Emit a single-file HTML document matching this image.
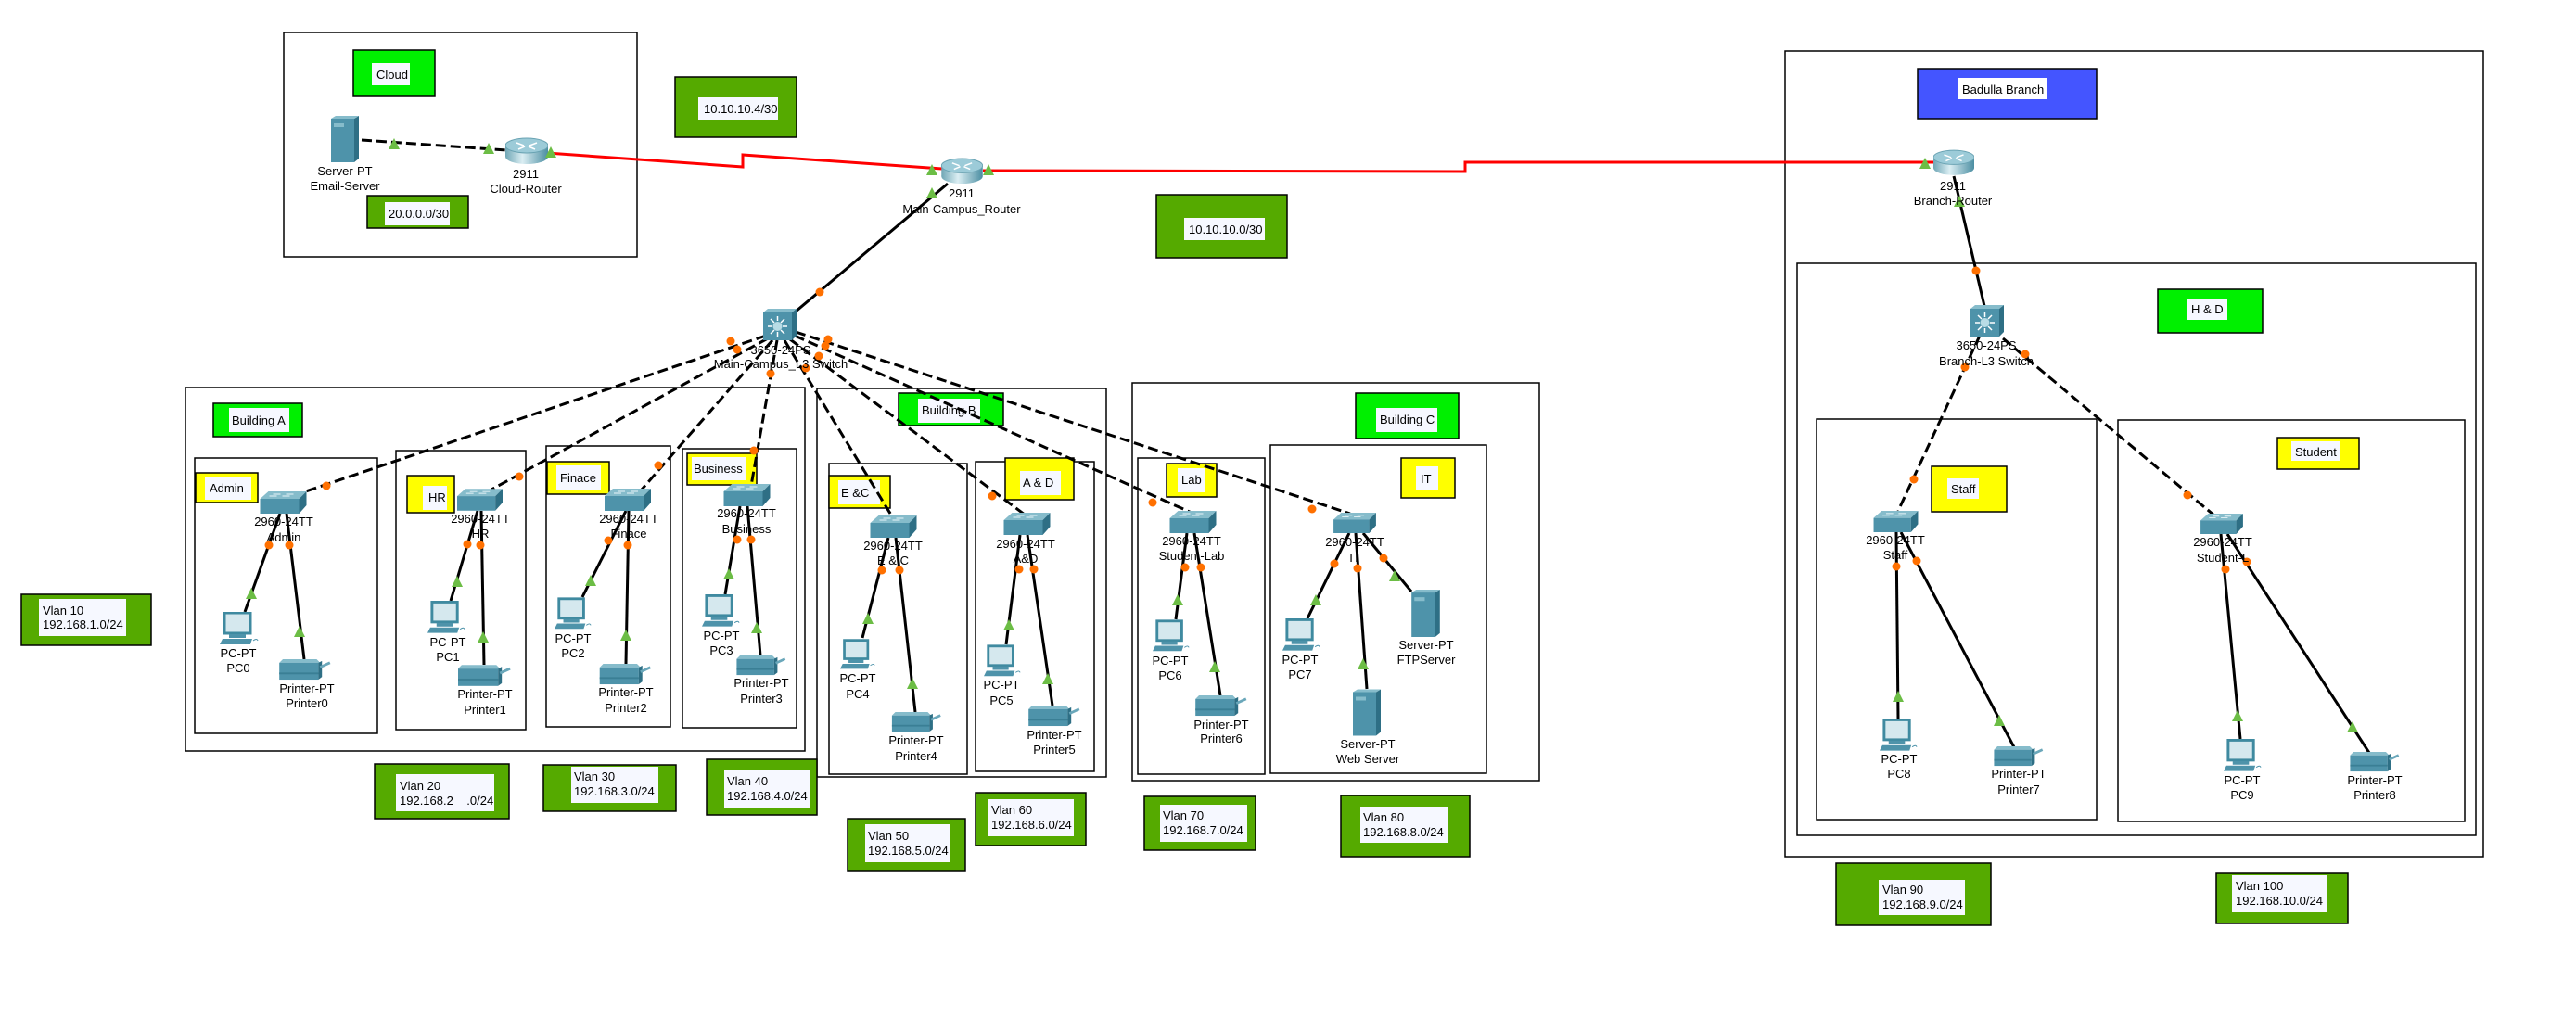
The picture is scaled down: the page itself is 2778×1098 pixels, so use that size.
<!DOCTYPE html>
<html><head><meta charset="utf-8">
<style>
html,body{margin:0;padding:0;background:#fff;}
svg{display:block;}
text{font-family:"Liberation Sans",Arial,sans-serif;font-size:13px;fill:#000;}
.c{text-anchor:middle;}
.box{fill:none;stroke:#000;stroke-width:1.5;}
.sol{stroke:#000;stroke-width:3;fill:none;}
.dsh{stroke:#000;stroke-width:3;fill:none;stroke-dasharray:11 5;}
.red{stroke:#f00;stroke-width:3;fill:none;}
.od{fill:#ff7000;}
.gt{fill:#6cbd45;}
.g{fill:#00f000;stroke:#000;stroke-width:1.5;}
.y{fill:#ffff00;stroke:#000;stroke-width:1.5;}
.dg{fill:#55aa00;stroke:#000;stroke-width:1.5;}
.w{fill:#f6f8ff;}
</style></head>
<body>
<svg width="2778" height="1098" viewBox="0 0 2778 1098" xmlns="http://www.w3.org/2000/svg">
<defs>
<symbol id="sw" viewBox="0 0 50 24" width="50" height="24">
<polygon points="9,0 50,0 42,8 0,8" fill="#86bccb"/>
<rect x="0" y="8" width="42" height="16" fill="#4e93aa"/>
<polygon points="42,8 50,0 50,15 42,24" fill="#2e6f85"/>
<path d="M14,3 h8 M28,3 h8 M10,5 h8 M24,5 h8" stroke="#e8f4f8" stroke-width="1"/>
</symbol>
<symbol id="pc" viewBox="0 0 42 36" width="42" height="36">
<rect x="5" y="1" width="28" height="22" fill="#d5e8ee" stroke="#3f8aa0" stroke-width="3"/>
<rect x="10" y="24" width="18" height="4" fill="#4e93aa"/>
<polygon points="3,29 35,29 33,35 0,35" fill="#4e93aa"/>
<path d="M36,31 q4,-3 5,0" stroke="#4e93aa" fill="none"/>
</symbol>
<symbol id="pr" viewBox="0 0 58 24" width="58" height="24">
<polygon points="4,0 42,0 46,4 0,4" fill="#86bccb"/>
<rect x="0" y="4" width="44" height="19" fill="#4e93aa"/>
<rect x="0" y="15" width="44" height="2" fill="#3a7f95"/>
<polygon points="44,4 48,2 48,20 44,23" fill="#2e6f85"/>
<path d="M46,9 L57,4" stroke="#6aa7ba" stroke-width="3"/>
</symbol>
<symbol id="srv" viewBox="0 0 30 50" width="30" height="50">
<rect x="0" y="3" width="25" height="47" fill="#4e93aa"/>
<polygon points="25,3 30,0 30,46 25,50" fill="#2e6f85"/>
<polygon points="0,3 5,0 30,0 25,3" fill="#86bccb"/>
<rect x="3" y="8" width="11" height="4" fill="#86bccb"/>
</symbol>
<symbol id="rt" viewBox="0 0 46 30" width="46" height="30">
<defs><linearGradient id="rg" x1="0" x2="1"><stop offset="0" stop-color="#6fa6b5"/><stop offset="0.4" stop-color="#dbeef3"/><stop offset="1" stop-color="#4b8ea2"/></linearGradient></defs>
<rect x="0" y="9" width="46" height="12" fill="url(#rg)"/>
<ellipse cx="23" cy="21" rx="23" ry="8" fill="url(#rg)"/>
<ellipse cx="23" cy="9" rx="23" ry="8" fill="#9ccbd8" stroke="#6aa3b3"/>
<path d="M12,6 l8,3 M34,6 l-8,3 M14,13 l7,-3 M32,13 l-7,-3" stroke="#fff" stroke-width="1.5"/>
</symbol>
<symbol id="l3" viewBox="0 0 36 34" width="36" height="34">
<rect x="0" y="4" width="31" height="30" fill="#4e93aa"/>
<polygon points="0,4 5,0 36,0 31,4" fill="#86bccb"/>
<polygon points="31,4 36,0 36,29 31,34" fill="#2e6f85"/>
<circle cx="15.5" cy="19" r="5" fill="#b8dce6"/>
<path d="M15.5,8 v5 M15.5,25 v5 M5,19 h5 M21,19 h5 M8,11 l4,4 M23,11 l-4,4 M8,27 l4,-4 M23,27 l-4,-4" stroke="#fff" stroke-width="1.5"/>
</symbol>
<symbol id="tri" viewBox="0 0 12 12" width="12" height="12"><polygon points="6,0 12,12 0,12" fill="#6cbd45"/></symbol>
</defs>

<!-- ===== Containers ===== -->
<rect class="box" x="306" y="35" width="381" height="242"/>
<rect class="box" x="200" y="418" width="668" height="392"/>
<rect class="box" x="210" y="494" width="197" height="297"/>
<rect class="box" x="427" y="486" width="140" height="301"/>
<rect class="box" x="589" y="481" width="134" height="303"/>
<rect class="box" x="736" y="484" width="123" height="301"/>
<rect class="box" x="881" y="419" width="312" height="419"/>
<rect class="box" x="894" y="500" width="149" height="335"/>
<rect class="box" x="1052" y="498" width="128" height="334"/>
<rect class="box" x="1221" y="413" width="439" height="429"/>
<rect class="box" x="1227" y="494" width="137" height="341"/>
<rect class="box" x="1370" y="480" width="233" height="354"/>
<rect class="box" x="1925" y="55" width="753" height="869"/>
<rect class="box" x="1938" y="284" width="732" height="617"/>
<rect class="box" x="1959" y="452" width="302" height="432"/>
<rect class="box" x="2284" y="453" width="374" height="433"/>

<!-- ===== Labels (colored) ===== -->
<rect class="g" x="381" y="54" width="88" height="50"/><rect class="w" x="401" y="68" width="41" height="24"/><text x="406" y="85">Cloud</text>
<rect class="dg" x="728" y="83" width="131" height="65"/><rect class="w" x="753" y="105" width="86" height="24"/><text x="759" y="122">10.10.10.4/30</text>
<rect class="dg" x="396" y="211" width="109" height="35"/><rect class="w" x="415" y="218" width="70" height="25"/><text x="419" y="235">20.0.0.0/30</text>
<rect class="dg" x="1247" y="210" width="141" height="68"/><rect class="w" x="1277" y="235" width="87" height="24"/><text x="1282" y="252">10.10.10.0/30</text>

<rect class="g" x="230" y="435" width="96" height="36"/><rect class="w" x="247" y="440" width="65" height="26"/><text x="250" y="458">Building A</text>
<rect class="y" x="211" y="510" width="67" height="32"/><rect class="w" x="221" y="514" width="50" height="25"/><text x="226" y="531">Admin</text>
<rect class="y" x="439" y="513" width="51" height="40"/><rect class="w" x="456" y="524" width="26" height="26"/><text x="462" y="541">HR</text>
<rect class="y" x="590" y="498" width="67" height="35"/><rect class="w" x="600" y="502" width="48" height="26"/><text x="604" y="520">Finace</text>
<rect class="y" x="741" y="489" width="75" height="34"/><rect class="w" x="746" y="493" width="58" height="25"/><text x="748" y="510">Business</text>
<rect class="g" x="969" y="424" width="113" height="35"/><rect class="w" x="990" y="430" width="67" height="26"/><text x="994" y="447">Building B</text>
<rect class="y" x="894" y="513" width="66" height="35"/><rect class="w" x="904" y="518" width="45" height="26"/><text x="907" y="536">E &amp;C</text>
<rect class="y" x="1084" y="494" width="74" height="45"/><rect class="w" x="1100" y="508" width="44" height="26"/><text x="1103" y="525">A &amp; D</text>
<rect class="g" x="1462" y="424" width="111" height="49"/><rect class="w" x="1484" y="440" width="66" height="26"/><text x="1488" y="457">Building C</text>
<rect class="y" x="1258" y="500" width="54" height="36"/><rect class="w" x="1270" y="505" width="30" height="26"/><text x="1274" y="522">Lab</text>
<rect class="y" x="1511" y="494" width="58" height="43"/><rect class="w" x="1527" y="503" width="24" height="26"/><text x="1532" y="521">IT</text>

<rect x="2068" y="74" width="193" height="54" fill="#4455ff" stroke="#000" stroke-width="1.5"/><rect x="2112" y="84" width="95" height="23" fill="#fff"/><text x="2116" y="101">Badulla Branch</text>
<rect class="g" x="2327" y="312" width="113" height="47"/><rect class="w" x="2359" y="322" width="43" height="23"/><text x="2363" y="338">H &amp; D</text>
<rect class="y" x="2083" y="503" width="81" height="49"/><rect class="w" x="2100" y="516" width="34" height="22"/><text x="2104" y="532">Staff</text>
<rect class="y" x="2456" y="472" width="88" height="34"/><rect class="w" x="2471" y="476" width="52" height="21"/><text x="2475" y="492">Student</text>

<!-- Vlan boxes -->
<rect class="dg" x="23" y="641" width="140" height="55"/><rect class="w" x="42" y="646" width="94" height="40"/><text x="46" y="663">Vlan 10</text><text x="46" y="678">192.168.1.0/24</text>
<rect class="dg" x="404" y="824" width="145" height="59"/><rect class="w" x="427" y="835" width="106" height="40"/><text x="431" y="852">Vlan 20</text><text x="431" y="868">192.168.2 &#160;&#160;&#160;.0/24</text>
<rect class="dg" x="586" y="825" width="143" height="50"/><rect class="w" x="616" y="827" width="94" height="39"/><text x="619" y="842">Vlan 30</text><text x="619" y="858">192.168.3.0/24</text>
<rect class="dg" x="762" y="819" width="119" height="60"/><rect class="w" x="781" y="831" width="92" height="40"/><text x="784" y="847">Vlan 40</text><text x="784" y="863">192.168.4.0/24</text>
<rect class="dg" x="914" y="883" width="127" height="56"/><rect class="w" x="933" y="889" width="92" height="41"/><text x="936" y="906">Vlan 50</text><text x="936" y="922">192.168.5.0/24</text>
<rect class="dg" x="1052" y="855" width="119" height="57"/><rect class="w" x="1066" y="862" width="92" height="40"/><text x="1069" y="878">Vlan 60</text><text x="1069" y="894">192.168.6.0/24</text>
<rect class="dg" x="1234" y="859" width="120" height="58"/><rect class="w" x="1251" y="868" width="94" height="40"/><text x="1254" y="884">Vlan 70</text><text x="1254" y="900">192.168.7.0/24</text>
<rect class="dg" x="1446" y="858" width="139" height="66"/><rect class="w" x="1467" y="870" width="95" height="39"/><text x="1470" y="886">Vlan 80</text><text x="1470" y="902">192.168.8.0/24</text>
<rect class="dg" x="1980" y="931" width="167" height="67"/><rect class="w" x="2026" y="949" width="93" height="38"/><text x="2030" y="964">Vlan 90</text><text x="2030" y="980">192.168.9.0/24</text>
<rect class="dg" x="2390" y="942" width="142" height="54"/><rect class="w" x="2407" y="944" width="102" height="40"/><text x="2411" y="960">Vlan 100</text><text x="2411" y="976">192.168.10.0/24</text>

<!-- ===== Links ===== -->
<polyline class="red" points="590,165 801,180 801,167 1016,182"/>
<polyline class="red" points="1060,184 1580,185 1580,175 2086,175"/>
<line class="dsh" x1="390" y1="151" x2="546" y2="162"/>
<line class="sol" x1="1022" y1="198" x2="858" y2="336"/>

<line class="dsh" x1="826" y1="362" x2="318" y2="534"/>
<line class="dsh" x1="828" y1="365" x2="530" y2="528"/>
<line class="dsh" x1="833" y1="367" x2="692" y2="528"/>
<line class="dsh" x1="838" y1="367" x2="810" y2="524"/>
<line class="dsh" x1="846" y1="367" x2="962" y2="557"/>
<line class="dsh" x1="852" y1="366" x2="1105" y2="555"/>
<line class="dsh" x1="857" y1="362" x2="1285" y2="553"/>
<line class="dsh" x1="858" y1="358" x2="1456" y2="554"/>

<line class="dsh" x1="2135" y1="362" x2="2047" y2="551"/>
<line class="dsh" x1="2160" y1="365" x2="2388" y2="556"/>
<line class="sol" x1="2107" y1="190" x2="2140" y2="330"/>

<!-- Access links -->
<line class="sol" x1="302" y1="554" x2="264" y2="660"/><line class="sol" x1="309" y1="554" x2="328" y2="711"/>
<line class="sol" x1="515" y1="551" x2="486" y2="648"/><line class="sol" x1="519" y1="551" x2="522" y2="717"/>
<line class="sol" x1="675" y1="551" x2="628" y2="644"/><line class="sol" x1="678" y1="551" x2="675" y2="716"/>
<line class="sol" x1="798" y1="546" x2="782" y2="641"/><line class="sol" x1="806" y1="546" x2="820" y2="707"/>
<line class="sol" x1="958" y1="580" x2="930" y2="688"/><line class="sol" x1="966" y1="580" x2="987" y2="768"/>
<line class="sol" x1="1100" y1="577" x2="1085" y2="695"/><line class="sol" x1="1108" y1="577" x2="1135" y2="761"/>
<line class="sol" x1="1280" y1="575" x2="1268" y2="668"/><line class="sol" x1="1288" y1="575" x2="1316" y2="750"/>
<line class="sol" x1="1455" y1="575" x2="1410" y2="667"/><line class="sol" x1="1462" y1="575" x2="1474" y2="743"/><line class="sol" x1="1470" y1="575" x2="1522" y2="638"/>
<line class="sol" x1="2045" y1="574" x2="2047" y2="775"/><line class="sol" x1="2050" y1="574" x2="2172" y2="806"/>
<line class="sol" x1="2395" y1="576" x2="2416" y2="797"/><line class="sol" x1="2402" y1="576" x2="2555" y2="812"/>

<!-- ===== Devices ===== -->
<use href="#srv" x="357" y="125" width="30" height="50"/>
<use href="#rt" x="545" y="148" width="46" height="30"/>
<use href="#rt" x="1015" y="170" width="45" height="29"/>
<use href="#rt" x="2085" y="161" width="44" height="29"/>
<use href="#l3" x="823" y="333" width="36" height="34"/>
<use href="#l3" x="2125" y="329" width="36" height="34"/>

<use href="#sw" x="280" y="530" width="51" height="24"/>
<use href="#sw" x="493" y="527" width="49" height="24"/>
<use href="#sw" x="651" y="527" width="52" height="24"/>
<use href="#sw" x="779" y="522" width="53" height="24"/>
<use href="#sw" x="938" y="556" width="51" height="24"/>
<use href="#sw" x="1082" y="553" width="51" height="24"/>
<use href="#sw" x="1261" y="551" width="51" height="24"/>
<use href="#sw" x="1436" y="553" width="50" height="22"/>
<use href="#sw" x="2020" y="551" width="49" height="23"/>
<use href="#sw" x="2371" y="554" width="50" height="22"/>

<use href="#pc" x="237" y="660" width="42" height="36"/>
<use href="#pc" x="461" y="648" width="41" height="36"/>
<use href="#pc" x="598" y="644" width="40" height="36"/>
<use href="#pc" x="757" y="641" width="41" height="36"/>
<use href="#pc" x="906" y="688" width="38" height="36"/>
<use href="#pc" x="1061" y="695" width="40" height="36"/>
<use href="#pc" x="1243" y="668" width="40" height="36"/>
<use href="#pc" x="1383" y="667" width="41" height="36"/>
<use href="#pc" x="2027" y="775" width="41" height="36"/>
<use href="#pc" x="2398" y="797" width="41" height="36"/>

<use href="#pr" x="300" y="711" width="58" height="23"/>
<use href="#pr" x="494" y="717" width="57" height="24"/>
<use href="#pr" x="646" y="716" width="57" height="23"/>
<use href="#pr" x="793" y="707" width="56" height="22"/>
<use href="#pr" x="960" y="768" width="57" height="22"/>
<use href="#pr" x="1108" y="761" width="58" height="23"/>
<use href="#pr" x="1288" y="750" width="58" height="23"/>
<use href="#pr" x="2149" y="805" width="56" height="22"/>
<use href="#pr" x="2533" y="811" width="56" height="22"/>

<use href="#srv" x="1522" y="636" width="31" height="51"/>
<use href="#srv" x="1459" y="743" width="30" height="51"/>

<!-- ===== Orange dots ===== -->
<g class="od">
<circle cx="884" cy="315" r="4.5"/>
<circle cx="788" cy="368" r="4.5"/><circle cx="352" cy="524" r="4.5"/>
<circle cx="795" cy="377" r="4.5"/><circle cx="560" cy="514" r="4.5"/>
<circle cx="831" cy="403" r="4.5"/><circle cx="710" cy="502" r="4.5"/>
<circle cx="869" cy="397" r="4.5"/><circle cx="813" cy="486" r="4.5"/>
<circle cx="883" cy="384" r="4.5"/>
<circle cx="890" cy="373" r="4.5"/><circle cx="1070" cy="535" r="4.5"/>
<circle cx="893" cy="366" r="4.5"/><circle cx="1243" cy="542" r="4.5"/>
<circle cx="1415" cy="549" r="4.5"/>
<circle cx="290" cy="588" r="4.5"/><circle cx="312" cy="588" r="4.5"/>
<circle cx="504" cy="587" r="4.5"/><circle cx="518" cy="588" r="4.5"/>
<circle cx="656" cy="583" r="4.5"/><circle cx="677" cy="588" r="4.5"/>
<circle cx="795" cy="582" r="4.5"/><circle cx="810" cy="582" r="4.5"/>
<circle cx="951" cy="615" r="4.5"/><circle cx="970" cy="615" r="4.5"/>
<circle cx="1099" cy="614" r="4.5"/><circle cx="1115" cy="614" r="4.5"/>
<circle cx="1278" cy="612" r="4.5"/><circle cx="1295" cy="612" r="4.5"/>
<circle cx="1439" cy="608" r="4.5"/><circle cx="1464" cy="613" r="4.5"/><circle cx="1492" cy="602" r="4.5"/>
<circle cx="2131" cy="292" r="4.5"/>
<circle cx="2119" cy="396" r="4.5"/><circle cx="2064" cy="517" r="4.5"/>
<circle cx="2184" cy="382" r="4.5"/><circle cx="2359" cy="534" r="4.5"/>
<circle cx="2045" cy="611" r="4.5"/><circle cx="2067" cy="605" r="4.5"/>
<circle cx="2400" cy="614" r="4.5"/><circle cx="2423" cy="606" r="4.5"/>
</g>

<!-- ===== Green triangles ===== -->
<g class="gt">
<polygon points="425,149 431,161 419,161"/><polygon points="527,154 533,166 521,166"/>
<polygon points="594,158 600,170 588,170"/>
<polygon points="1005,177 1011,189 999,189"/><polygon points="1066,177 1072,189 1060,189"/>
<polygon points="1005,202 1011,214 999,214"/>
<polygon points="2076,170 2082,182 2070,182"/><polygon points="2113,211 2119,223 2107,223"/>
<polygon points="271,634 277,646 265,646"/><polygon points="323,675 329,687 317,687"/>
<polygon points="493,621 499,633 487,633"/><polygon points="521,681 527,693 515,693"/>
<polygon points="637,620 643,632 631,632"/><polygon points="675,679 681,691 669,691"/>
<polygon points="786,613 792,625 780,625"/><polygon points="816,671 822,683 810,683"/>
<polygon points="936,661 942,673 930,673"/><polygon points="984,731 990,743 978,743"/>
<polygon points="1088,668 1094,680 1082,680"/><polygon points="1130,726 1136,738 1124,738"/>
<polygon points="1270,641 1276,653 1264,653"/><polygon points="1310,713 1316,725 1304,725"/>
<polygon points="1419,641 1425,653 1413,653"/><polygon points="1470,710 1476,722 1464,722"/><polygon points="1504,615 1510,627 1498,627"/>
<polygon points="2047,745 2053,757 2041,757"/><polygon points="2156,771 2162,783 2150,783"/>
<polygon points="2413,766 2419,778 2407,778"/><polygon points="2537,778 2543,790 2531,790"/>
</g>

<!-- ===== Device labels ===== -->
<text class="c" x="372" y="189">Server-PT</text><text class="c" x="372" y="205">Email-Server</text>
<text class="c" x="567" y="192">2911</text><text class="c" x="567" y="208">Cloud-Router</text>
<text class="c" x="1037" y="213">2911</text><text class="c" x="1037" y="230">Main-Campus_Router</text>
<text class="c" x="842" y="382">3650-24PS</text><text class="c" x="842" y="397">Main-Campus_L3 Switch</text>
<text class="c" x="2106" y="205">2911</text><text class="c" x="2106" y="221">Branch-Router</text>
<text class="c" x="2142" y="377">3650-24PS</text><text class="c" x="2142" y="394">Branch-L3 Switch</text>

<text class="c" x="306" y="567">2960-24TT</text><text class="c" x="306" y="584">Admin</text>
<text class="c" x="518" y="564">2960-24TT</text><text class="c" x="518" y="580">HR</text>
<text class="c" x="678" y="564">2960-24TT</text><text class="c" x="678" y="580">Finace</text>
<text class="c" x="805" y="558">2960-24TT</text><text class="c" x="805" y="575">Business</text>
<text class="c" x="963" y="593">2960-24TT</text><text class="c" x="963" y="609">E &amp; C</text>
<text class="c" x="1106" y="591">2960-24TT</text><text class="c" x="1106" y="607">A&amp;D</text>
<text class="c" x="1285" y="588">2960-24TT</text><text class="c" x="1285" y="604">Student-Lab</text>
<text class="c" x="1461" y="589">2960-24TT</text><text class="c" x="1461" y="606">IT</text>
<text class="c" x="2044" y="587">2960-24TT</text><text class="c" x="2044" y="603">Staff</text>
<text class="c" x="2397" y="589">2960-24TT</text><text class="c" x="2397" y="606">Student-L</text>

<text class="c" x="257" y="709">PC-PT</text><text class="c" x="257" y="725">PC0</text>
<text class="c" x="483" y="697">PC-PT</text><text class="c" x="483" y="713">PC1</text>
<text class="c" x="618" y="693">PC-PT</text><text class="c" x="618" y="709">PC2</text>
<text class="c" x="778" y="690">PC-PT</text><text class="c" x="778" y="706">PC3</text>
<text class="c" x="925" y="736">PC-PT</text><text class="c" x="925" y="753">PC4</text>
<text class="c" x="1080" y="743">PC-PT</text><text class="c" x="1080" y="760">PC5</text>
<text class="c" x="1262" y="717">PC-PT</text><text class="c" x="1262" y="733">PC6</text>
<text class="c" x="1402" y="716">PC-PT</text><text class="c" x="1402" y="732">PC7</text>
<text class="c" x="2048" y="823">PC-PT</text><text class="c" x="2048" y="839">PC8</text>
<text class="c" x="2418" y="846">PC-PT</text><text class="c" x="2418" y="862">PC9</text>

<text class="c" x="331" y="747">Printer-PT</text><text class="c" x="331" y="763">Printer0</text>
<text class="c" x="523" y="753">Printer-PT</text><text class="c" x="523" y="770">Printer1</text>
<text class="c" x="675" y="751">Printer-PT</text><text class="c" x="675" y="768">Printer2</text>
<text class="c" x="821" y="741">Printer-PT</text><text class="c" x="821" y="758">Printer3</text>
<text class="c" x="988" y="803">Printer-PT</text><text class="c" x="988" y="820">Printer4</text>
<text class="c" x="1137" y="797">Printer-PT</text><text class="c" x="1137" y="813">Printer5</text>
<text class="c" x="1317" y="786">Printer-PT</text><text class="c" x="1317" y="801">Printer6</text>
<text class="c" x="2177" y="839">Printer-PT</text><text class="c" x="2177" y="856">Printer7</text>
<text class="c" x="2561" y="846">Printer-PT</text><text class="c" x="2561" y="862">Printer8</text>

<text class="c" x="1538" y="700">Server-PT</text><text class="c" x="1538" y="716">FTPServer</text>
<text class="c" x="1475" y="807">Server-PT</text><text class="c" x="1475" y="823">Web Server</text>
</svg>
</body></html>
